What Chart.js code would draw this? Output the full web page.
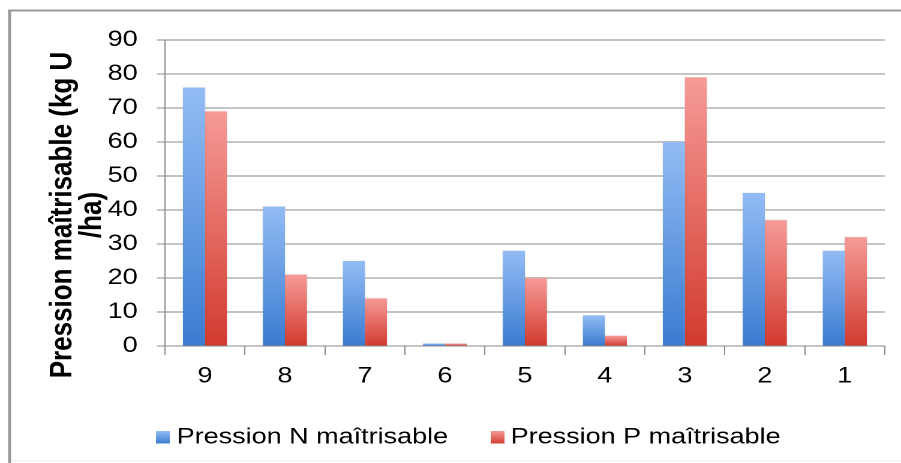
<!DOCTYPE html>
<html>
<head>
<meta charset="utf-8">
<script src="https://cdn.jsdelivr.net/npm/chart.js@4.4.1/dist/chart.umd.min.js"></script>
<style>
  html, body { margin: 0; padding: 0; background: #fff; overflow: hidden; }
  #wrap { width: 901px; height: 463px; overflow: hidden; }
  /* the chart is laid out on a narrower canvas and widened to the page */
  canvas { display: block; transform: scaleX(1.19973); transform-origin: 0 0; }
</style>
</head>
<body>
<div id="wrap"><canvas id="chart" width="751" height="463"></canvas></div>
<script>
// categories (left to right) and values per series, kg U / ha
const categories = ['9', '8', '7', '6', '5', '4', '3', '2', '1'];
const seriesNames = ['Pression N maîtrisable', 'Pression P maîtrisable'];
const pressionN = [76, 41, 25, 0.7, 28, 9, 60, 45, 28];
const pressionP = [69, 21, 14, 0.7, 20, 3, 79, 37, 32];
const yTickValues = [0, 10, 20, 30, 40, 50, 60, 70, 80, 90];
const yTitleLines = ['Pression maîtrisable (kg U', '/ha)'];

const FONT = "'Liberation Sans', Arial, sans-serif";
const GRID = '#8c8c8c';
const BLUE = { light: '#93bcf5', dark: '#3a7bd0' };
const RED = { light: '#f69b97', dark: '#d23a2e' };

// vertical gradient per bar: light at the top, dark at the base
function barFill(pal) {
  return (ctx) => {
    const chart = ctx.chart;
    const { chartArea, scales } = chart;
    if (!chartArea || ctx.type !== 'data') return pal.dark;
    const top = scales.y.getPixelForValue(ctx.raw);
    const base = scales.y.getPixelForValue(0);
    if (base - top < 1) return pal.dark;
    const g = chart.ctx.createLinearGradient(0, top, 0, base);
    g.addColorStop(0, pal.light);
    g.addColorStop(1, pal.dark);
    return g;
  };
}

// frame, rotated axis title and the legend row
const decorations = {
  id: 'decorations',
  beforeDraw(chart) {
    const c = chart.ctx;
    c.save();
    c.fillStyle = '#ffffff';
    c.fillRect(0, 0, chart.width, chart.height);
    c.fillStyle = '#9a9a9a';
    c.fillRect(6.7, 9.5, 2.5, 454);
    c.fillRect(6.7, 9.5, chart.width, 2);
    c.fillStyle = '#ececec';
    c.fillRect(9, 460.5, chart.width, 1);
    c.restore();
  },
  beforeDatasetsDraw(chart) {
    const c = chart.ctx;
    c.save();
    c.shadowColor = 'rgba(0,0,0,0.14)';
    c.shadowBlur = 3;
  },
  afterDatasetsDraw(chart) {
    chart.ctx.restore();
  },
  afterDraw(chart) {
    const c = chart.ctx;
    c.save();
    // y axis title
    c.fillStyle = '#000';
    c.font = 'bold 26px ' + FONT;
    c.textAlign = 'center';
    c.textBaseline = 'middle';
    const xs = [52.5, 77];
    yTitleLines.forEach((line, i) => {
      c.save();
      c.translate(xs[i], 215);
      c.rotate(-Math.PI / 2);
      c.fillText(line, 0, 0);
      c.restore();
    });
    // legend
    const keys = [
      { box: 130, text: 147.2, pal: BLUE },
      { box: 409, text: 425.6, pal: RED }
    ];
    c.font = '22.5px ' + FONT;
    c.textAlign = 'left';
    c.textBaseline = 'alphabetic';
    chart.data.datasets.forEach((ds, i) => {
      const k = keys[i];
      const g = c.createLinearGradient(0, 431, 0, 444);
      g.addColorStop(0, k.pal.light);
      g.addColorStop(1, k.pal.dark);
      c.fillStyle = g;
      c.fillRect(k.box, 431, 11.5, 12.5);
      c.fillStyle = '#000';
      c.fillText(ds.label, k.text, 443.5);
    });
    c.restore();
  }
};

new Chart(document.getElementById('chart'), {
  type: 'bar',
  data: {
    labels: categories,
    datasets: [
      { label: seriesNames[0], data: pressionN, backgroundColor: barFill(BLUE), borderWidth: 0 },
      { label: seriesNames[1], data: pressionP, backgroundColor: barFill(RED), borderWidth: 0 }
    ]
  },
  options: {
    responsive: false,
    devicePixelRatio: 2,
    animation: false,
    layout: { padding: { left: 0, right: 13.5, top: 40, bottom: 0 } },
    datasets: { bar: { categoryPercentage: 0.55, barPercentage: 1.0 } },
    plugins: { legend: { display: false }, tooltip: { enabled: false } },
    scales: {
      x: {
        grid: { offset: true, drawOnChartArea: false, color: GRID, tickLength: 9, lineWidth: 1 },
        border: { color: GRID, width: 1 },
        ticks: { color: '#000', font: { family: FONT, size: 22.5 }, padding: 8, maxRotation: 0 },
        afterFit(scale) { scale.height = 117; }
      },
      y: {
        min: 0,
        max: 90,
        afterBuildTicks(scale) { scale.ticks = yTickValues.map(v => ({ value: v })); },
        grid: { color: GRID, tickLength: 6.7, lineWidth: 1 },
        border: { color: GRID, width: 1 },
        ticks: { color: '#000', font: { family: FONT, size: 22.5 }, padding: 16 },
        afterFit(scale) { scale.width = 137.5; }
      }
    }
  },
  plugins: [decorations]
});
</script>
</body>
</html>
